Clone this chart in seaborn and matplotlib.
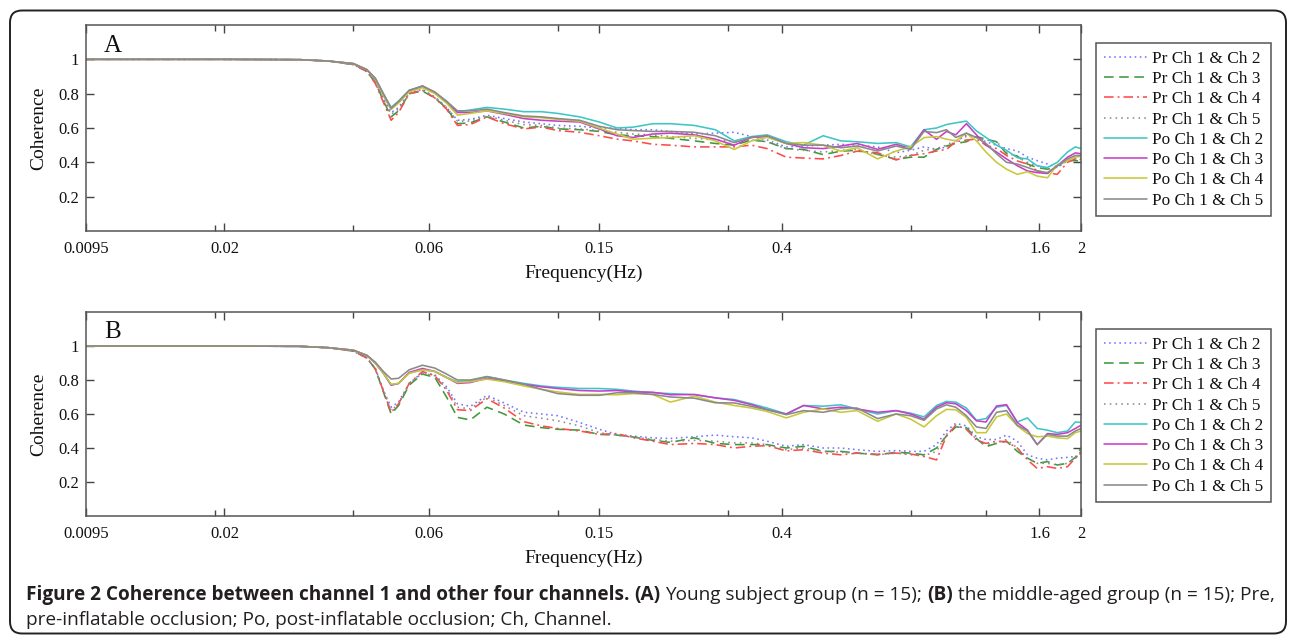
import matplotlib
matplotlib.use("Agg")
import matplotlib.pyplot as plt
import seaborn as sns
from matplotlib.ticker import FixedLocator, NullFormatter, FixedFormatter, NullLocator
from matplotlib.patches import FancyBboxPatch

# ---------------- data ----------------
freq = [0.0095, 0.02, 0.03, 0.035, 0.04, 0.043, 0.045, 0.047, 0.049, 0.051,
        0.054, 0.058, 0.062, 0.066, 0.07, 0.075, 0.082, 0.09, 0.1, 0.11,
        0.12, 0.135, 0.15, 0.165, 0.18, 0.2, 0.22, 0.25, 0.28, 0.31,
        0.34, 0.37, 0.41, 0.45, 0.5, 0.55, 0.6, 0.67, 0.74, 0.8,
        0.86, 0.92, 0.97, 1.02, 1.08, 1.14, 1.2, 1.27, 1.34, 1.42,
        1.5, 1.58, 1.67, 1.76, 1.86, 1.94, 2.0]

# Panel A: young subject group
A_pr_ch2 = [1.0, 1.0, 0.998, 0.99, 0.97, 0.93, 0.87, 0.77, 0.69, 0.72,
            0.805, 0.825, 0.78, 0.72, 0.645, 0.65, 0.675, 0.655, 0.635, 0.625,
            0.615, 0.61, 0.60, 0.60, 0.59, 0.59, 0.58, 0.565, 0.57, 0.575,
            0.55, 0.53, 0.49, 0.495, 0.50, 0.505, 0.50, 0.49, 0.456, 0.47,
            0.49, 0.476, 0.49, 0.52, 0.56, 0.545, 0.52, 0.50, 0.48, 0.466,
            0.43, 0.41, 0.39, 0.37, 0.41, 0.43, 0.437]
A_pr_ch3 = [1.0, 1.0, 0.998, 0.99, 0.97, 0.93, 0.865, 0.76, 0.665, 0.70,
            0.80, 0.815, 0.775, 0.715, 0.625, 0.63, 0.665, 0.635, 0.60, 0.61,
            0.595, 0.59, 0.58, 0.56, 0.555, 0.55, 0.54, 0.525, 0.51, 0.50,
            0.53, 0.52, 0.48, 0.475, 0.445, 0.465, 0.47, 0.447, 0.417, 0.43,
            0.43, 0.476, 0.495, 0.51, 0.52, 0.55, 0.535, 0.52, 0.45, 0.437,
            0.39, 0.37, 0.36, 0.38, 0.41, 0.41, 0.408]
A_pr_ch4 = [1.0, 1.0, 0.998, 0.99, 0.97, 0.93, 0.86, 0.75, 0.645, 0.69,
            0.80, 0.82, 0.775, 0.71, 0.615, 0.62, 0.665, 0.625, 0.595, 0.605,
            0.585, 0.575, 0.555, 0.535, 0.525, 0.505, 0.50, 0.49, 0.49, 0.49,
            0.50, 0.48, 0.43, 0.425, 0.42, 0.44, 0.465, 0.456, 0.414, 0.44,
            0.45, 0.466, 0.475, 0.52, 0.53, 0.535, 0.50, 0.48, 0.44, 0.408,
            0.39, 0.35, 0.34, 0.33, 0.40, 0.42, 0.417]
A_pr_ch5 = [1.0, 1.0, 0.998, 0.99, 0.97, 0.93, 0.87, 0.765, 0.68, 0.71,
            0.80, 0.82, 0.78, 0.72, 0.64, 0.64, 0.67, 0.645, 0.62, 0.615,
            0.60, 0.595, 0.585, 0.575, 0.565, 0.56, 0.55, 0.54, 0.53, 0.52,
            0.53, 0.52, 0.48, 0.47, 0.46, 0.47, 0.475, 0.445, 0.43, 0.44,
            0.47, 0.48, 0.50, 0.53, 0.55, 0.545, 0.53, 0.52, 0.46, 0.43,
            0.40, 0.38, 0.36, 0.37, 0.41, 0.42, 0.43]
A_po_ch2 = [1.0, 1.0, 0.998, 0.99, 0.975, 0.94, 0.89, 0.80, 0.72, 0.757,
            0.82, 0.84, 0.805, 0.757, 0.695, 0.705, 0.72, 0.71, 0.695, 0.695,
            0.685, 0.665, 0.635, 0.60, 0.605, 0.625, 0.625, 0.615, 0.59, 0.525,
            0.55, 0.56, 0.52, 0.50, 0.555, 0.525, 0.52, 0.51, 0.515, 0.49,
            0.59, 0.60, 0.62, 0.63, 0.64, 0.583, 0.545, 0.50, 0.47, 0.427,
            0.42, 0.38, 0.37, 0.40, 0.46, 0.49, 0.48]
A_po_ch3 = [1.0, 1.0, 0.998, 0.99, 0.975, 0.94, 0.885, 0.79, 0.71, 0.75,
            0.815, 0.845, 0.805, 0.75, 0.69, 0.69, 0.70, 0.68, 0.655, 0.645,
            0.64, 0.635, 0.595, 0.555, 0.545, 0.565, 0.57, 0.56, 0.535, 0.50,
            0.545, 0.55, 0.51, 0.485, 0.48, 0.495, 0.51, 0.476, 0.505, 0.48,
            0.59, 0.534, 0.58, 0.56, 0.625, 0.56, 0.50, 0.46, 0.42, 0.38,
            0.35, 0.34, 0.335, 0.38, 0.43, 0.455, 0.45]
A_po_ch4 = [1.0, 1.0, 0.998, 0.99, 0.975, 0.94, 0.885, 0.79, 0.71, 0.745,
            0.81, 0.835, 0.80, 0.745, 0.675, 0.685, 0.70, 0.685, 0.665, 0.66,
            0.65, 0.64, 0.60, 0.565, 0.535, 0.54, 0.545, 0.555, 0.525, 0.475,
            0.525, 0.545, 0.51, 0.515, 0.50, 0.465, 0.485, 0.42, 0.466, 0.49,
            0.544, 0.55, 0.535, 0.525, 0.57, 0.525, 0.46, 0.40, 0.36, 0.33,
            0.345, 0.32, 0.31, 0.385, 0.41, 0.43, 0.437]
A_po_ch5 = [1.0, 1.0, 0.998, 0.99, 0.975, 0.94, 0.89, 0.80, 0.715, 0.755,
            0.82, 0.845, 0.81, 0.755, 0.70, 0.70, 0.71, 0.69, 0.67, 0.665,
            0.655, 0.645, 0.61, 0.59, 0.585, 0.58, 0.58, 0.575, 0.555, 0.515,
            0.545, 0.555, 0.51, 0.50, 0.50, 0.485, 0.495, 0.466, 0.495, 0.475,
            0.58, 0.573, 0.59, 0.545, 0.57, 0.545, 0.51, 0.45, 0.40, 0.39,
            0.37, 0.35, 0.34, 0.38, 0.42, 0.44, 0.44]

# Panel B: middle-aged group
B_pr_ch2 = [1.0, 1.0, 0.998, 0.99, 0.97, 0.93, 0.87, 0.74, 0.64, 0.67,
            0.78, 0.845, 0.83, 0.76, 0.66, 0.645, 0.71, 0.665, 0.61, 0.60,
            0.59, 0.55, 0.51, 0.48, 0.47, 0.46, 0.456, 0.466, 0.476, 0.466,
            0.46, 0.44, 0.41, 0.42, 0.40, 0.40, 0.39, 0.38, 0.385, 0.38,
            0.38, 0.42, 0.50, 0.545, 0.53, 0.466, 0.45, 0.45, 0.476, 0.44,
            0.36, 0.34, 0.33, 0.34, 0.345, 0.35, 0.35]
B_pr_ch3 = [1.0, 1.0, 0.998, 0.99, 0.97, 0.93, 0.865, 0.73, 0.60, 0.65,
            0.77, 0.835, 0.815, 0.70, 0.58, 0.565, 0.64, 0.60, 0.535, 0.52,
            0.51, 0.505, 0.48, 0.476, 0.465, 0.445, 0.433, 0.46, 0.427, 0.42,
            0.42, 0.42, 0.40, 0.41, 0.38, 0.38, 0.37, 0.36, 0.375, 0.37,
            0.36, 0.40, 0.47, 0.524, 0.52, 0.456, 0.408, 0.427, 0.44, 0.38,
            0.34, 0.31, 0.32, 0.30, 0.31, 0.345, 0.40]
B_pr_ch4 = [1.0, 1.0, 0.998, 0.99, 0.97, 0.93, 0.865, 0.735, 0.61, 0.66,
            0.78, 0.85, 0.825, 0.74, 0.625, 0.62, 0.69, 0.635, 0.555, 0.53,
            0.515, 0.50, 0.48, 0.485, 0.46, 0.44, 0.42, 0.427, 0.42, 0.40,
            0.41, 0.414, 0.383, 0.39, 0.37, 0.36, 0.37, 0.363, 0.37, 0.365,
            0.35, 0.33, 0.47, 0.534, 0.51, 0.447, 0.427, 0.44, 0.437, 0.40,
            0.33, 0.28, 0.29, 0.28, 0.29, 0.34, 0.38]
B_pr_ch5 = [1.0, 1.0, 0.998, 0.99, 0.97, 0.93, 0.865, 0.735, 0.62, 0.66,
            0.78, 0.84, 0.825, 0.75, 0.64, 0.63, 0.70, 0.65, 0.59, 0.575,
            0.56, 0.53, 0.49, 0.475, 0.465, 0.45, 0.44, 0.445, 0.44, 0.43,
            0.43, 0.42, 0.39, 0.40, 0.38, 0.375, 0.37, 0.36, 0.37, 0.36,
            0.355, 0.38, 0.48, 0.53, 0.515, 0.45, 0.42, 0.43, 0.45, 0.40,
            0.34, 0.31, 0.31, 0.30, 0.31, 0.34, 0.37]
B_po_ch2 = [1.0, 1.0, 0.998, 0.99, 0.975, 0.945, 0.90, 0.84, 0.77, 0.78,
            0.84, 0.86, 0.85, 0.815, 0.79, 0.795, 0.82, 0.80, 0.78, 0.765,
            0.757, 0.75, 0.75, 0.745, 0.735, 0.725, 0.72, 0.713, 0.695, 0.685,
            0.66, 0.635, 0.60, 0.65, 0.646, 0.654, 0.63, 0.60, 0.62, 0.605,
            0.583, 0.65, 0.674, 0.67, 0.635, 0.563, 0.573, 0.64, 0.65, 0.553,
            0.577, 0.515, 0.505, 0.49, 0.50, 0.553, 0.55]
B_po_ch3 = [1.0, 1.0, 0.998, 0.99, 0.975, 0.945, 0.90, 0.84, 0.77, 0.78,
            0.845, 0.868, 0.85, 0.815, 0.78, 0.785, 0.81, 0.795, 0.775, 0.76,
            0.75, 0.738, 0.735, 0.738, 0.73, 0.728, 0.713, 0.715, 0.695, 0.68,
            0.655, 0.625, 0.60, 0.65, 0.63, 0.64, 0.63, 0.61, 0.62, 0.60,
            0.57, 0.64, 0.666, 0.66, 0.62, 0.56, 0.553, 0.647, 0.655, 0.55,
            0.505, 0.42, 0.485, 0.48, 0.49, 0.515, 0.534]
B_po_ch4 = [1.0, 1.0, 0.998, 0.99, 0.975, 0.945, 0.90, 0.84, 0.775, 0.78,
            0.84, 0.86, 0.85, 0.815, 0.785, 0.79, 0.805, 0.79, 0.765, 0.745,
            0.73, 0.715, 0.715, 0.713, 0.72, 0.715, 0.67, 0.705, 0.67, 0.65,
            0.635, 0.615, 0.577, 0.61, 0.63, 0.61, 0.62, 0.557, 0.60, 0.57,
            0.524, 0.59, 0.627, 0.625, 0.58, 0.49, 0.49, 0.583, 0.60, 0.53,
            0.485, 0.466, 0.47, 0.46, 0.455, 0.49, 0.50]
B_po_ch5 = [1.0, 1.0, 0.998, 0.99, 0.975, 0.945, 0.905, 0.85, 0.806, 0.81,
            0.86, 0.887, 0.87, 0.835, 0.80, 0.80, 0.82, 0.80, 0.775, 0.745,
            0.72, 0.71, 0.71, 0.725, 0.725, 0.715, 0.70, 0.693, 0.666, 0.665,
            0.645, 0.625, 0.596, 0.62, 0.61, 0.63, 0.635, 0.573, 0.60, 0.59,
            0.563, 0.63, 0.654, 0.64, 0.59, 0.524, 0.515, 0.61, 0.62, 0.534,
            0.50, 0.42, 0.48, 0.47, 0.47, 0.50, 0.515]

series_labels = ["Pr Ch 1 & Ch 2", "Pr Ch 1 & Ch 3", "Pr Ch 1 & Ch 4", "Pr Ch 1 & Ch 5",
                 "Po Ch 1 & Ch 2", "Po Ch 1 & Ch 3", "Po Ch 1 & Ch 4", "Po Ch 1 & Ch 5"]
panel_A = [A_pr_ch2, A_pr_ch3, A_pr_ch4, A_pr_ch5, A_po_ch2, A_po_ch3, A_po_ch4, A_po_ch5]
panel_B = [B_pr_ch2, B_pr_ch3, B_pr_ch4, B_pr_ch5, B_po_ch2, B_po_ch3, B_po_ch4, B_po_ch5]

x_major = [0.0095, 0.02, 0.06, 0.15, 0.4, 1.6, 2]
x_major_labels = ["0.0095", "0.02", "0.06", "0.15", "0.4", "1.6", "2"]
x_minor = [0.019, 0.04, 0.12, 0.3, 0.8, 1.2]
y_ticks = [0.2, 0.4, 0.6, 0.8, 1.0]
y_tick_labels = ["0.2", "0.4", "0.6", "0.8", "1"]

caption_line1 = [("Figure 2 Coherence between channel 1 and other four channels.", True),
                 ("(A)", True), ("Young subject group (n = 15);", False),
                 ("(B)", True), ("the middle-aged group (n = 15); Pre,", False)]
caption_line2 = [("pre-inflatable occlusion; Po, post-inflatable occlusion; Ch, Channel.", False)]

# ---------------- styles ----------------
colors = ["#7373ff", "#3c9a3c", "#ff4a4a", "#8c8c8c",
          "#3ec6c6", "#c83ec8", "#c8c83a", "#8a8a8a"]
styles = [(0, (1, 2.2)), (0, (6, 3.5)), (0, (6, 2.5, 1.2, 2.5)), (0, (1, 2.6)),
          "-", "-", "-", "-"]

sns.set_theme(style="ticks")
plt.rcParams["font.family"] = ["Liberation Serif", "DejaVu Serif"]

W, H = 1290, 636
fig = plt.figure(figsize=(W / 100, H / 100), dpi=100)
fig.patch.set_facecolor("white")


def px_axes(left, top, right, bottom):
    return fig.add_axes([left / W, 1 - bottom / H, (right - left) / W, (bottom - top) / H])


def draw_panel(ax, data, letter, legend_top):
    for vals, lab, c, ls in zip(data, series_labels, colors, styles):
        sns.lineplot(x=freq, y=vals, ax=ax, color=c, linestyle=ls, linewidth=1.15,
                     label=lab, legend=False)
    ax.set_xscale("log")
    ax.set_xlim(0.0095, 2)
    ax.set_ylim(0, 1.2)
    ax.xaxis.set_major_locator(FixedLocator(x_major))
    ax.xaxis.set_major_formatter(FixedFormatter(x_major_labels))
    ax.xaxis.set_minor_locator(FixedLocator(x_minor))
    ax.xaxis.set_minor_formatter(NullFormatter())
    ax.yaxis.set_major_locator(FixedLocator(y_ticks))
    ax.yaxis.set_major_formatter(FixedFormatter(y_tick_labels))
    ax.yaxis.set_minor_locator(NullLocator())
    ax.tick_params(axis="both", which="major", direction="in", length=6, width=1,
                   color="#444444", labelsize=12, labelcolor="#111111",
                   top=True, right=True, labelright=False, labeltop=False)
    ax.tick_params(axis="x", which="major", pad=7.5)
    ax.tick_params(axis="y", which="major", pad=5)
    ax.tick_params(axis="x", which="minor", direction="in", length=4, width=1,
                   color="#444444", top=True, bottom=True)
    for sp in ax.spines.values():
        sp.set_visible(True)
        sp.set_color("#555555")
        sp.set_linewidth(1.1)
    ax.set_xlabel("Frequency(Hz)", fontsize=14, labelpad=5, color="#111111")
    ax.set_ylabel("Coherence", fontsize=14, labelpad=8, color="#111111")
    ax.text(0.027, 0.9, letter, transform=ax.transAxes, fontsize=18,
            ha="center", va="center", color="#111111")
    ax.set_facecolor("white")
    ax.grid(False)
    leg = ax.legend(loc="upper left", bbox_to_anchor=(1096 / W, 1 - legend_top / H),
                    bbox_transform=fig.transFigure, frameon=True, fancybox=False,
                    fontsize=12.4, handlelength=2.5, handletextpad=0.3,
                    labelspacing=0.245, borderpad=0.45, borderaxespad=0)
    fr = leg.get_frame()
    fr.set_edgecolor("#555555")
    fr.set_linewidth(1.1)
    fr.set_alpha(1)
    for t in leg.get_texts():
        t.set_color("#111111")


axA = px_axes(86, 25, 1081, 231)
axB = px_axes(86, 312, 1081, 516)
draw_panel(axA, panel_A, "A", 43)
draw_panel(axB, panel_B, "B", 329)

# outer rounded frame
frame = FancyBboxPatch((0.10, 0.025), 12.76, 6.23,
                       boxstyle="round,pad=0,rounding_size=0.12",
                       transform=fig.dpi_scale_trans, fill=False,
                       edgecolor="#222222", linewidth=1.4)
fig.add_artist(frame)

# caption with mixed weights
renderer = fig.canvas.get_renderer()
cap_font = ["Open Sans", "DejaVu Sans"]
cap_color = "#231f20"


def measure(txt, size, bold):
    t = fig.text(0, 0, txt, fontsize=size, family=cap_font,
                 fontweight="bold" if bold else "normal")
    w = t.get_window_extent(renderer).width
    t.remove()
    return w


def space_width(size, bold):
    return measure("x x", size, bold) - measure("xx", size, bold)


def line_width(pieces, size):
    total = 0
    for i, (txt, bold) in enumerate(pieces):
        total += measure(txt, size, bold)
        if i < len(pieces) - 1:
            total += space_width(size, False)
    return total


def draw_line(pieces, x0, baseline, size):
    x = x0
    for i, (txt, bold) in enumerate(pieces):
        t = fig.text(x / W, 1 - baseline / H, txt, fontsize=size, family=cap_font,
                     fontweight="bold" if bold else "normal", color=cap_color,
                     ha="left", va="baseline")
        x += t.get_window_extent(renderer).width
        if i < len(pieces) - 1:
            x += space_width(size, False)


cap_x0 = 26
target = 1269 - cap_x0
base_size = 12.0
cap_size = base_size * target / line_width(caption_line1, base_size)
draw_line(caption_line1, cap_x0, 600, cap_size)
draw_line(caption_line2, cap_x0, 625, cap_size)

fig.savefig("out.png", dpi=100, facecolor="white")
